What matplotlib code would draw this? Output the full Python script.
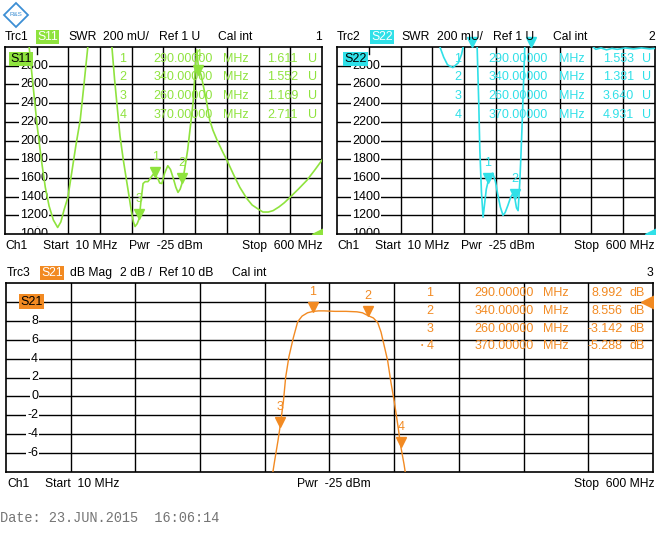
import matplotlib
matplotlib.use('Agg')
import matplotlib.pyplot as plt
from matplotlib.transforms import ScaledTranslation, blended_transform_factory
from matplotlib.patches import Polygon

plt.rcParams['font.family'] = ['Liberation Sans', 'DejaVu Sans']

# ---- data ----
# S11 SWR in mU (values above 3000 are off screen)
s11_freq = [10, 40, 55, 62, 70, 78, 85, 92, 100, 108, 114, 120, 127, 134, 142, 150, 157, 165, 175,
            195, 209, 214, 219, 224, 230, 236, 241, 245, 249, 252, 256, 260, 263, 267, 271, 276,
            281, 286, 290, 294, 298, 302, 307, 313, 318, 323, 328, 332, 336, 340, 344, 350, 355,
            360, 364, 367, 370, 375, 385, 391, 397, 405, 415, 423, 435, 447, 460, 470, 479, 490,
            500, 509, 520, 530, 540, 556, 572, 586, 600]
s11_swr = [4200, 3500, 3000, 2600, 2150, 1780, 1500, 1300, 1150, 1070, 1130, 1260, 1390, 1650, 1950,
           2220, 2600, 3050, 3500, 3500, 3000, 2650, 2350, 2050, 1800, 1580, 1400, 1250, 1130, 1080,
           1110, 1169, 1350, 1540, 1560, 1560, 1600, 1640, 1615, 1600, 1545, 1540, 1650, 1730, 1690,
           1600, 1500, 1445, 1480, 1552, 1680, 1900, 2150, 2400, 2750, 2970, 2780, 2700, 2420, 2217,
           2110, 2000, 1880, 1790, 1640, 1500, 1380, 1310, 1275, 1235, 1235, 1250, 1290, 1335, 1390,
           1480, 1575, 1680, 1790]

# S22 SWR in mU
s22_freq = [10, 100, 190, 201, 208, 215, 225, 235, 241, 246, 255, 266, 270, 273, 275, 278, 281, 284,
            287, 290, 295, 299, 304, 308, 313, 318, 322, 327, 332, 336, 340, 343, 346, 349, 351, 353,
            356, 359, 380, 470, 482, 490, 500, 510, 520, 530, 545, 560, 575, 590, 600]
s22_swr = [4000, 3800, 3300, 3000, 2890, 2810, 2780, 2830, 2920, 3050, 3400, 3400, 3000, 2400, 1900,
           1450, 1180, 1330, 1480, 1553, 1640, 1650, 1560, 1430, 1290, 1200, 1230, 1305, 1390, 1430,
           1381, 1280, 1250, 1540, 1800, 2100, 2600, 3100, 3600, 3400, 3020, 2975, 2990, 2970, 2985,
           2975, 2990, 2980, 2990, 2980, 2985]

# S21 magnitude in dB
s21_freq = [248, 252, 255, 258, 260, 263, 265, 268, 272, 276, 280, 285, 290, 295, 300, 310, 320, 330,
            335, 340, 345, 349, 352, 355, 358, 361, 364, 367, 370, 373, 376, 380]
s21_db = [-12, -9, -6.8, -4.7, -3.142, -0.5, 2, 4.2, 6.2, 7.9, 8.5, 8.85, 8.992, 9.05, 9.05, 9.0, 9.0,
          8.95, 8.85, 8.556, 8.3, 7.8, 6.8, 5.3, 3.8, 1.5, -0.5, -2.8, -5.288, -7.2, -9.5, -13]

marker_freq = [290, 340, 260, 370]
marker_freq_txt = ['290.00000', '340.00000', '260.00000', '370.00000']
s11_mk = [1.611, 1.552, 1.169, 2.711]
s22_mk = [1.553, 1.381, 3.640, 4.931]
s21_mk = [8.992, 8.556, -3.142, -5.288]

GREEN = '#8fe33e'
CYAN = '#30e0e8'
ORANGE = '#f28a22'

W, H = 660, 543
fig = plt.figure(figsize=(6.6, 5.43), dpi=100)
fig.patch.set_facecolor('white')


def ftext(x, y, s, **kw):
    kw.setdefault('fontsize', 8.7)
    kw.setdefault('va', 'center')
    return fig.text(x / W, 1 - y / H, s, **kw)


def panel(x0, y0, x1, y1, ylo, step, skip_first):
    ax = fig.add_axes([x0 / W, 1 - y1 / H, (x1 - x0) / W, (y1 - y0) / H])
    ax.set_xlim(10, 600)
    ax.set_ylim(ylo, ylo + 10 * step)
    ax.set_xticks([])
    ax.set_yticks([])
    for k in range(1, 10):
        fx = 10 + 59 * k
        if k == 1 and skip_first:
            ax.axvline(fx, ymin=0.965, ymax=1, color='black', lw=1, zorder=1)
            ax.axvline(fx, ymin=0, ymax=0.035, color='black', lw=1, zorder=1)
        else:
            ax.axvline(fx, color='black', lw=1, zorder=1)
        ax.axhline(ylo + k * step, color='black', lw=1, zorder=1)
    for sp in ax.spines.values():
        sp.set_color('black')
        sp.set_linewidth(1.2)
    return ax


def ylabels(ax, values, xfrac, fmt):
    tr = blended_transform_factory(ax.transAxes, ax.transData)
    for v in values:
        ax.text(xfrac, v, fmt(v), transform=tr, ha='right', va='center', fontsize=9,
                bbox=dict(boxstyle='square,pad=0.08', fc='white', ec='none'),
                clip_on=True, zorder=2)


def markers(ax, freqs, vals, color, top=None):
    ms = 6.5
    up = ScaledTranslation(0, ms / 2 / 72, fig.dpi_scale_trans)
    for i, (f, v) in enumerate(zip(freqs, vals)):
        off = top is not None and v > top
        if off:
            v = top
        ax.plot(f, v, marker='v', ms=ms, color=color, transform=ax.transData + up,
                clip_on=False, zorder=4)
        if not off:
            ax.annotate(str(i + 1), (f, v), xytext=(0, 14), textcoords='offset points',
                        ha='center', va='center', color=color, fontsize=9, zorder=4)


def ref_tri(ax, yv, color, dx):
    sh = ScaledTranslation(dx / 100, 0, fig.dpi_scale_trans)
    ax.plot(600, yv, marker='<', ms=10, color=color, transform=ax.transData + sh,
            clip_on=True, zorder=4)


# ---- top-left: S11 ----
ax1 = panel(5, 47, 322, 234, 1000, 200, True)
ylabels(ax1, range(1000, 3000, 200), (48 - 5) / 317, lambda v: '%d' % v)
ax1.plot(s11_freq, s11_swr, color=GREEN, lw=1.2, zorder=3)
markers(ax1, marker_freq, [m * 1000 for m in s11_mk], GREEN, top=3000)
ref_tri(ax1, 1000, GREEN, -3)
ax1.text(0.016, 0.936, 'S11', transform=ax1.transAxes, ha='left', va='center', fontsize=9,
         bbox=dict(boxstyle='square,pad=0.1', fc=GREEN, ec='none'), zorder=5)

# ---- top-right: S22 ----
ax2 = panel(337, 47, 655, 234, 1000, 200, True)
ylabels(ax2, range(1000, 3000, 200), (380 - 337) / 318, lambda v: '%d' % v)
ax2.plot(s22_freq, s22_swr, color=CYAN, lw=1.2, zorder=3)
markers(ax2, marker_freq, [m * 1000 for m in s22_mk], CYAN, top=3000)
ref_tri(ax2, 1000, CYAN, -3)
ax2.text(0.022, 0.936, 'S22', transform=ax2.transAxes, ha='left', va='center', fontsize=9,
         bbox=dict(boxstyle='square,pad=0.1', fc=CYAN, ec='none'), zorder=5)

# ---- bottom: S21 ----
ax3 = panel(6, 283, 653, 472, -8, 2, False)
ylabels(ax3, range(-6, 12, 2), (38 - 6) / 647, lambda v: '%d' % v)
ax3.plot(s21_freq, s21_db, color=ORANGE, lw=1.0, zorder=3)
markers(ax3, marker_freq, s21_mk, ORANGE)
ref_tri(ax3, 10, ORANGE, -5)
ax3.text(0.022, 0.902, 'S21', transform=ax3.transAxes, ha='left', va='center', fontsize=9,
         bbox=dict(boxstyle='square,pad=0.1', fc=ORANGE, ec='none'), zorder=5)

# ---- marker tables ----
rows_top = [59, 77.5, 96, 114.5]
for i in range(4):
    y = rows_top[i]
    ftext(123, y, str(i + 1), ha='center', color=GREEN, fontsize=9)
    ftext(213, y, marker_freq_txt[i], ha='right', color=GREEN, fontsize=9)
    ftext(223, y, 'MHz', color=GREEN, fontsize=9)
    ftext(298, y, '%.3f' % s11_mk[i], ha='right', color=GREEN, fontsize=9)
    ftext(308, y, 'U', color=GREEN, fontsize=9)

    ftext(458, y, str(i + 1), ha='center', color=CYAN, fontsize=9)
    ftext(548, y, marker_freq_txt[i], ha='right', color=CYAN, fontsize=9)
    ftext(559, y, 'MHz', color=CYAN, fontsize=9)
    ftext(634, y, '%.3f' % s22_mk[i], ha='right', color=CYAN, fontsize=9)
    ftext(642, y, 'U', color=CYAN, fontsize=9)

rows_bot = [293, 311, 328.5, 346]
for i in range(4):
    y = rows_bot[i]
    ftext(430, y, str(i + 1), ha='center', color=ORANGE, fontsize=9)
    ftext(534, y, marker_freq_txt[i], ha='right', color=ORANGE, fontsize=9)
    ftext(543, y, 'MHz', color=ORANGE, fontsize=9)
    ftext(623, y, '%.3f' % s21_mk[i], ha='right', color=ORANGE, fontsize=9)
    ftext(629, y, 'dB', color=ORANGE, fontsize=9)
ftext(422, 346, '•', ha='center', color=ORANGE, fontsize=5)

# ---- headers ----
def badge(x, y, s, color):
    ftext(x, y, s, color='white',
          bbox=dict(boxstyle='square,pad=0.12', fc=color, ec='none'))

ftext(5, 37, 'Trc1')
badge(37, 37, 'S11', GREEN)
ftext(68, 37, 'SWR')
ftext(103, 37, '200 mU/')
ftext(159, 37, 'Ref 1 U')
ftext(218, 37, 'Cal int')
ftext(322, 37, '1', ha='right')

ftext(337, 37, 'Trc2')
badge(371, 37, 'S22', CYAN)
ftext(401, 37, 'SWR')
ftext(437, 37, '200 mU/')
ftext(493, 37, 'Ref 1 U')
ftext(553, 37, 'Cal int')
ftext(655, 37, '2', ha='right')

ftext(7, 273, 'Trc3')
badge(41, 273, 'S21', ORANGE)
ftext(70, 273, 'dB Mag')
ftext(120, 273, '2 dB /')
ftext(159, 273, 'Ref 10 dB')
ftext(232, 273, 'Cal int')
ftext(653, 273, '3', ha='right')

# ---- footers ----
for x0, x1, y in [(5, 322, 246), (337, 655, 246)]:
    ftext(x0, y, 'Ch1')
    ftext(x0 + 38, y, 'Start  10 MHz')
    ftext(x0 + 124, y, 'Pwr  -25 dBm')
    ftext(x1, y, 'Stop  600 MHz', ha='right')
ftext(7, 484, 'Ch1')
ftext(45, 484, 'Start  10 MHz')
ftext(297, 484, 'Pwr  -25 dBm')
ftext(654, 484, 'Stop  600 MHz', ha='right')

ftext(0, 518, 'Date: 23.JUN.2015  16:06:14', family='Liberation Mono', fontsize=9.8,
      color='#757575')

# ---- logo ----
pts = [(16, 3), (28, 15), (16, 27), (4, 15)]
logo = Polygon([(x / W, 1 - y / H) for x, y in pts], closed=True, fill=False,
               ec='#3d8fd4', lw=1.3, transform=fig.transFigure)
fig.add_artist(logo)
ftext(16, 15, 'R&S', ha='center', fontsize=4.5, color='#3d8fd4')

plt.savefig('out.png', dpi=100)
plt.close(fig)
